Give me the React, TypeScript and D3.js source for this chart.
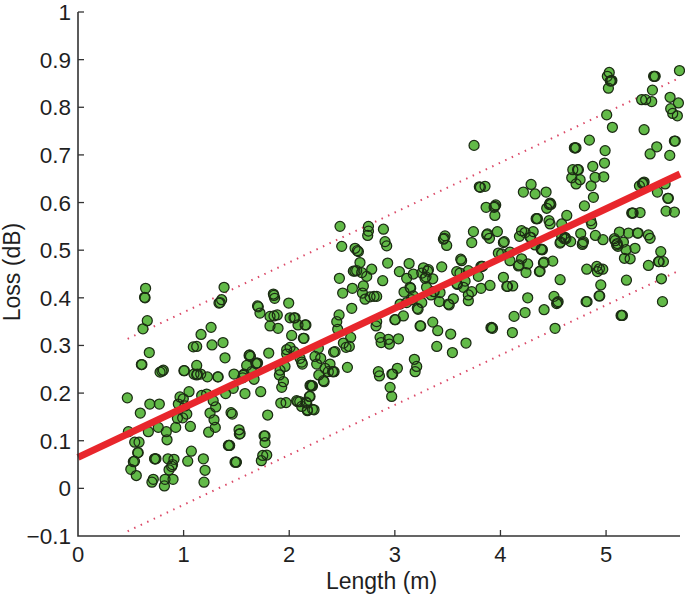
import React from "react";
import * as d3 from "d3";

type P = [number, number];

const xTicks = [0, 1, 2, 3, 4, 5];
const yTicks = [-0.1, 0, 0.1, 0.2, 0.3, 0.4, 0.5, 0.6, 0.7, 0.8, 0.9, 1];
const fitLine: P[] = [[0, 0.065], [5.7, 0.66]];
const upperBound: P[] = [[0.47, 0.314], [5.7, 0.862]];
const lowerBound: P[] = [[0.47, -0.09], [5.7, 0.458]];

const pointsShort: P[] = [
  [.64,.42],[.635,.40],[.63,.401],[.656,.352],[.615,.335],[.675,.285],[.60,.26],[.605,.26],[.467,.19],[.68,.177],[.77,.177],
  [.59,.158],[.477,.119],[.666,.119],[.537,.097],[.578,.097],[.565,.075],[.57,.075],[.524,.056],[.535,.057],[.50,.04],[.552,.027],
  [.70,.013],[.713,.019],[.725,.062],[.73,.062],[.738,.062],[.76,.128],[.836,.119],[.843,.102],[.925,.128],[.852,.062],[.909,.061],
  [.887,.046],[.895,.05],[.862,.039],[.824,.019],[.90,.019],[.818,.005],[1.073,.078],[1.039,.057],[1.187,.062],[1.203,.038],[1.193,.013],
  [1.064,.13],[1.237,.118],[1.30,.128],[1.288,.144],[1.25,.158],[1.304,.171],[1.28,.184],[1.218,.198],[1.171,.195],[1.051,.203],
  [.966,.192],[.997,.188],[.95,.177],[1.013,.173],[1.03,.156],[.991,.148],[.941,.147],[1.007,.247],[1.003,.247],[1.124,.258],[1.098,.24],
  [1.124,.238],[1.13,.24],[1.162,.24],[1.225,.234],[1.323,.234],[1.327,.234],[.777,.244],[.808,.248],[.795,.246],[1.092,.297],[1.124,.298],
  [1.165,.323],[1.26,.338],[1.269,.301],[1.373,.306],[1.392,.274],[1.383,.422],[1.36,.396],[1.345,.39],[1.335,.389],[1.449,.159],[1.461,.156],
  [1.424,.09],[1.43,.09],[1.436,.09],[1.525,.123],[1.528,.114],[1.535,.115],[1.487,.055],[1.495,.055],[1.5,.055],
];

const pointsMid: P[] = [
  [1.771,.11],[1.762,.11],[1.771,.096],[1.749,.069],[1.787,.07],[1.736,.058],[1.796,.154],[1.73,.203],[1.581,.199],[1.398,.199],[1.47,.21],
  [1.667,.229],[1.566,.237],[1.572,.24],[1.56,.232],[1.477,.24],[1.62,.279],[1.625,.28],[1.633,.277],[1.597,.258],[1.692,.263],[1.70,.263],[1.685,.262],
  [1.645,.245],[1.806,.284],[1.707,.381],[1.70,.383],[1.723,.368],[1.85,.408],[1.855,.405],[1.862,.399],[1.995,.389],[1.818,.361],[1.856,.362],[1.887,.364],
  [1.818,.341],[1.894,.336],[2.008,.358],[2.045,.358],[2.055,.358],[2.083,.343],[2.15,.343],[2.158,.343],[2.023,.321],[2.134,.315],[2.14,.315],
  [2.008,.296],[1.976,.291],[1.976,.282],[2.045,.287],[2.102,.273],[2.124,.261],[1.96,.256],[1.913,.248],[1.907,.238],[1.945,.224],[1.929,.212],
  [1.92,.179],[1.97,.18],[2.07,.184],[2.08,.182],[2.118,.172],[2.165,.179],[2.172,.163],[2.197,.193],[2.197,.216],[2.205,.216],
  [2.481,.55],[2.497,.508],[2.75,.55],[2.75,.54],[2.743,.531],[2.892,.544],[2.623,.504],[2.645,.499],[2.655,.497],[2.907,.518],[2.923,.509],
  [2.67,.474],[2.607,.456],[2.639,.457],[2.622,.456],[2.781,.46],[2.686,.453],[2.734,.445],[2.475,.441],[2.598,.42],[2.506,.41],[2.885,.436],[2.932,.473],
  [2.702,.425],[2.693,.41],[2.718,.397],[2.765,.402],[2.803,.403],[2.828,.403],[2.592,.378],[2.472,.364],[2.45,.35],[2.459,.334],
  [2.828,.35],[2.822,.341],[3.005,.354],[3.0,.354],[3.081,.362],[2.582,.317],[2.86,.317],[2.87,.306],[2.939,.313],[2.948,.303],[3.034,.314],
  [2.513,.305],[2.569,.298],[2.538,.296],[2.434,.287],[2.42,.286],[2.276,.294],[2.118,.265],[2.244,.277],[2.298,.273],[2.26,.261],[2.386,.261],[2.339,.252],
  [2.418,.245],[2.41,.245],[2.425,.245],[2.37,.245],[2.551,.254],[2.28,.238],[2.324,.226],[2.33,.224],[2.213,.215],[2.22,.215],[2.191,.193],[2.16,.181],[2.10,.182],
  [2.172,.165],[2.235,.165],[2.22,.166],[2.844,.245],[2.854,.236],[2.98,.24],[2.972,.24],[3.024,.252],[3.185,.271],[3.207,.256],[3.192,.245],[2.955,.212],[2.97,.193],
];

const pointsLong: P[] = [
  [3.75,.72],
  [3.359,.349],[3.406,.331],[3.239,.341],[3.245,.341],[3.529,.324],[3.397,.298],[3.545,.285],[3.674,.305],[3.043,.455],[3.135,.472],[3.112,.441],[3.175,.45],
  [3.271,.463],[3.255,.452],[3.318,.459],[3.31,.456],[3.286,.441],[3.295,.444],[3.359,.44],[3.3,.422],[3.444,.465],[3.144,.422],[3.15,.42],[3.087,.412],[3.175,.404],
  [3.05,.387],[3.112,.39],[3.255,.39],[3.213,.378],[3.22,.376],[3.343,.406],[3.428,.411],[3.365,.413],[3.372,.413],[3.421,.392],[3.554,.398],[3.507,.387],[3.515,.385],[3.16,.396],
  [3.624,.481],[3.632,.478],[3.586,.455],[3.617,.452],[3.696,.457],[3.586,.43],[3.592,.428],[3.665,.435],[3.649,.422],[3.728,.413],[3.696,.406],[3.696,.394],[3.816,.42],[3.901,.426],
  [3.791,.445],[3.823,.466],[3.83,.466],[3.815,.466],[3.475,.53],[3.46,.523],[3.468,.525],[3.491,.51],[3.744,.539],[3.728,.516],[3.877,.534],[3.87,.532],[3.896,.525],[3.971,.539],
  [3.864,.59],[3.947,.592],[3.94,.59],[3.955,.595],[3.947,.573],[3.98,.494],[3.917,.338],[3.91,.337],[3.925,.336],[3.854,.634],[3.81,.632],[3.80,.633],
  [5.03,.873],[5.012,.865],[5.047,.856],[5.055,.856],[5.04,.855],[5.022,.84],[5.458,.865],[5.465,.865],[5.45,.865],[5.695,.877],[5.439,.836],[5.337,.816],[5.375,.816],[5.432,.812],
  [5.606,.821],[5.685,.809],[5.612,.797],[5.631,.787],[5.675,.782],[5.006,.784],[5.06,.758],[5.36,.753],[4.842,.731],[4.707,.715],[4.715,.715],[4.70,.715],[5.647,.729],[5.655,.729],
  [4.991,.709],[5.48,.717],[5.417,.702],[5.603,.699],[4.874,.676],[4.985,.683],[4.685,.669],[4.738,.669],[4.73,.669],[4.896,.653],[4.978,.654],[4.675,.652],[4.754,.648],[4.716,.639],
  [4.858,.635],[4.88,.611],[5.353,.641],[5.36,.643],[5.345,.64],[5.316,.635],[5.559,.639],[5.486,.622],[5.584,.609],[5.59,.609],[5.568,.582],[5.647,.58],[5.243,.578],[5.25,.578],[5.256,.578],[5.322,.579],
  [4.29,.638],[4.217,.622],[4.328,.618],[4.432,.622],[4.47,.599],[4.477,.596],[4.463,.596],[4.438,.588],[4.344,.566],[4.35,.566],[4.338,.566],[4.46,.562],[4.47,.555],[4.628,.573],[4.795,.593],
  [4.58,.555],[4.855,.562],[4.864,.555],[4.2,.541],[4.18,.529],[4.233,.537],[4.28,.527],[4.287,.527],[4.31,.539],[4.327,.511],[4.028,.516],[4.036,.518],[4.012,.492],[4.09,.496],[4.09,.478],
  [4.17,.467],[4.176,.469],[4.2,.482],[4.258,.471],[4.242,.453],[4.391,.501],[4.397,.501],[4.385,.502],[4.407,.473],[4.413,.475],[4.369,.455],[4.375,.456],[4.495,.477],[4.564,.515],[4.57,.517],
  [4.612,.527],[4.605,.524],[4.62,.524],[4.665,.518],[4.58,.529],[4.76,.535],[4.78,.515],[4.786,.518],[4.775,.512],[4.899,.531],[4.971,.522],[5.079,.524],[5.086,.52],[5.126,.538],[5.164,.517],
  [5.10,.511],[5.106,.514],[5.112,.508],[5.212,.536],[5.297,.536],[5.304,.536],[5.401,.532],[5.417,.525],[5.189,.501],[5.274,.504],[5.174,.483],[5.228,.482],[5.401,.468],[5.496,.476],[5.503,.476],[5.543,.476],
  [5.518,.497],[4.817,.46],[4.912,.466],[4.969,.46],[4.918,.455],[4.937,.461],[5.193,.437],[5.524,.44],[4.565,.438],[4.95,.427],[4.934,.404],[4.94,.404],[4.811,.392],[4.82,.392],
  [5.148,.363],[5.155,.363],[5.142,.363],[5.534,.392],[4.507,.403],[4.539,.39],[4.532,.388],[4.546,.392],[4.413,.375],[4.258,.4],[4.233,.369],[4.129,.361],[4.113,.327],[4.517,.336],
  [4.028,.443],[4.06,.424],[4.067,.424],[4.116,.425],
];

const allPoints = [...pointsShort, ...pointsMid, ...pointsLong];

const x = d3.scaleLinear().domain([0, 5.7]).range([78, 680]);
const y = d3.scaleLinear().domain([-0.1, 1]).range([536, 12]);
const line = d3.line<P>().x((d) => x(d[0])).y((d) => y(d[1]));

const FONT = "'Liberation Sans', Arial, sans-serif";
const AXIS = "#333";
const TEXT = "#1f1f1f";

export default function App() {
  const yFmt = (v: number) => (v < 0 ? "\u2212" + Math.abs(v) : String(+v.toFixed(1)));
  return (
    <svg width={685} height={595} style={{ position: "absolute", left: 0, top: 0, background: "#fff" }} fontFamily={FONT}>
      <path d={line(upperBound)!} fill="none" stroke="#dc4a68" strokeWidth={2} strokeDasharray="1.5 5.7" />
      <path d={line(lowerBound)!} fill="none" stroke="#dc4a68" strokeWidth={2} strokeDasharray="1.5 5.7" />
      <g>
        {allPoints.map((d, i) => (
          <circle key={i} cx={x(d[0])} cy={y(d[1])} r={5} fill="#62ba48" />
        ))}
        {allPoints.map((d, i) => (
          <circle key={i} cx={x(d[0])} cy={y(d[1])} r={5} fill="none" stroke="#1c2c14" strokeWidth={1.25} />
        ))}
      </g>
      <path d={line(fitLine)!} fill="none" stroke="#e8262c" strokeWidth={7} />
      <path d={`M${x(0)},${y(1)}V${y(-0.1)}H${x(5.7)}`} fill="none" stroke={AXIS} strokeWidth={1.6} />
      {xTicks.map((t) => (
        <g key={t}>
          {t > 0 && <line x1={x(t)} x2={x(t)} y1={y(-0.1)} y2={y(-0.1) - 6} stroke={AXIS} strokeWidth={1.3} />}
          <text x={x(t)} y={562} textAnchor="middle" fontSize={22} fill={TEXT}>{t}</text>
        </g>
      ))}
      {yTicks.map((t) => (
        <g key={t}>
          {t > -0.1 && <line x1={x(0)} x2={x(0) + 6} y1={y(t)} y2={y(t)} stroke={AXIS} strokeWidth={1.3} />}
          <text x={71} y={y(t) + 8} textAnchor="end" fontSize={22.5} fill={TEXT}>{yFmt(t)}</text>
        </g>
      ))}
      <text x={381.5} y={589} textAnchor="middle" fontSize={23} fill={TEXT}>Length (m)</text>
      <text transform="translate(20,272) rotate(-90)" textAnchor="middle" fontSize={23} fill={TEXT}>Loss (dB)</text>
    </svg>
  );
}
